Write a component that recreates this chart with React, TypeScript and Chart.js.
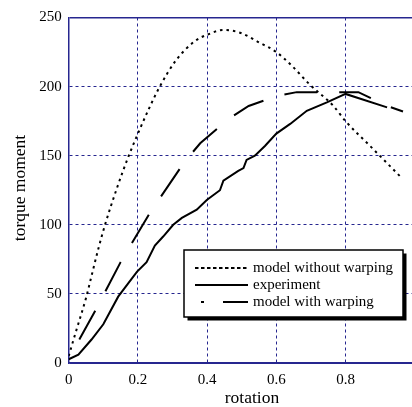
import React, { useEffect, useRef } from 'react';
import { Chart, registerables } from 'chart.js';

Chart.register(...registerables);

// tick values
const xTickValues = [0, 0.2, 0.4, 0.6, 0.8];
const yTickValues = [0, 50, 100, 150, 200, 250];

// model without warping (dotted)
const noWarpX = [0, 0.02, 0.05, 0.065, 0.085, 0.105, 0.14, 0.172, 0.2, 0.23, 0.261, 0.31, 0.365, 0.4, 0.447, 0.495, 0.55, 0.6, 0.645, 0.697, 0.765, 0.8, 0.871, 0.958];
const noWarpY = [5, 22, 47, 62, 82, 100, 127, 149, 166, 183, 199, 219, 233, 237.5, 241, 239, 232, 225, 215, 201.4, 186, 175, 157, 135];

// experiment (solid)
const expX = [0, 0.028, 0.066, 0.1, 0.143, 0.197, 0.225, 0.249, 0.273, 0.302, 0.327, 0.37, 0.399, 0.437, 0.447, 0.49, 0.505, 0.514, 0.538, 0.567, 0.6, 0.64, 0.688, 0.746, 0.8, 0.92];
const expY = [2.7, 6, 17, 28, 48, 66, 73, 85, 91.5, 100, 105, 111, 118, 125, 132, 139, 141, 147, 150, 157, 166, 173, 182.5, 188.6, 194.7, 185];

// model with warping (long dash)
const warpX = [0, 0.077, 0.15, 0.233, 0.333, 0.38, 0.464, 0.52, 0.606, 0.659, 0.837, 0.92, 0.966];
const warpY = [3, 38, 73, 108, 145, 159, 177, 186, 193.5, 196, 196, 186, 182];

const seriesLabels = ['model without warping', 'experiment', 'model with warping'];
const xTitle = 'rotation';
const yTitle = 'torque moment';

const SERIF = "'Liberation Serif', 'DejaVu Serif', serif";
const GRID = '#26268f';

const toPts = (xs: number[], ys: number[]) => xs.map((x, i) => ({ x, y: ys[i] }));

const overlayPlugin = {
  id: 'overlay',
  afterDraw(chart: any) {
    const ctx = chart.ctx as CanvasRenderingContext2D;
    ctx.save();
    // axis titles
    ctx.fillStyle = '#000';
    ctx.font = `17.5px ${SERIF}`;
    ctx.textAlign = 'center';
    ctx.textBaseline = 'middle';
    ctx.fillText(xTitle, 252, 398);
    ctx.save();
    ctx.translate(20, 188);
    ctx.rotate(-Math.PI / 2);
    ctx.fillText(yTitle, 0, 0);
    ctx.restore();

    // legend box with shadow
    const bx = 184, by = 250, bw = 219, bh = 67;
    ctx.fillStyle = '#000';
    ctx.fillRect(bx + 3.5, by + 3.5, bw, bh);
    ctx.fillStyle = '#fff';
    ctx.fillRect(bx, by, bw, bh);
    ctx.strokeStyle = '#000';
    ctx.lineWidth = 1.5;
    ctx.strokeRect(bx, by, bw, bh);

    const rows = [268, 285, 302];
    const sx0 = 195, sx1 = 248;
    ctx.lineWidth = 2;
    // row 1 dotted
    ctx.setLineDash([3.5, 2.5]);
    ctx.beginPath(); ctx.moveTo(sx0, rows[0]); ctx.lineTo(sx1, rows[0]); ctx.stroke();
    // row 2 solid
    ctx.setLineDash([]);
    ctx.beginPath(); ctx.moveTo(sx0, rows[1]); ctx.lineTo(sx1, rows[1]); ctx.stroke();
    // row 3 dot + dash
    ctx.beginPath(); ctx.moveTo(201, rows[2]); ctx.lineTo(204, rows[2]); ctx.stroke();
    ctx.beginPath(); ctx.moveTo(223, rows[2]); ctx.lineTo(sx1, rows[2]); ctx.stroke();

    ctx.fillStyle = '#000';
    ctx.font = `15px ${SERIF}`;
    ctx.textAlign = 'left';
    ctx.textBaseline = 'middle';
    seriesLabels.forEach((t, i) => ctx.fillText(t, 253, rows[i]));
    ctx.restore();
  },
};

export default function App() {
  const ref = useRef<HTMLCanvasElement | null>(null);
  useEffect(() => {
    if (!ref.current) return;
    const dashFor = (v: number, max: number) => (v === 0 || v === max ? [] : [3, 3]);
    const chart = new Chart(ref.current, {
      type: 'line',
      data: {
        datasets: [
          {
            label: seriesLabels[0],
            data: toPts(noWarpX, noWarpY),
            borderColor: '#000',
            borderWidth: 2,
            borderDash: [2.5, 4],
            pointRadius: 0,
            cubicInterpolationMode: 'monotone',
            fill: false,
          },
          {
            label: seriesLabels[1],
            data: toPts(expX, expY),
            borderColor: '#000',
            borderWidth: 2,
            pointRadius: 0,
            tension: 0,
            fill: false,
          },
          {
            label: seriesLabels[2],
            data: toPts(warpX, warpY),
            borderColor: '#000',
            borderWidth: 2,
            borderDash: [33, 22],
            borderDashOffset: 33,
            pointRadius: 0,
            tension: 0,
            fill: false,
          },
        ],
      },
      options: {
        animation: false,
        responsive: true,
        maintainAspectRatio: false,
        layout: { padding: { top: 17.5, left: 0, right: 0, bottom: 0 } },
        plugins: { legend: { display: false }, tooltip: { enabled: false } },
        scales: {
          x: {
            type: 'linear',
            min: 0,
            max: 0.992,
            afterBuildTicks: (s: any) => { s.ticks = xTickValues.map((v) => ({ value: v })); },
            afterFit: (s: any) => { s.height = 44; },
            grid: { color: GRID, lineWidth: 1, drawTicks: false },
            border: {
              display: true,
              color: GRID,
              width: 1.5,
              dash: (c: any) => (c.tick ? dashFor(c.tick.value, -1) : []),
            },
            ticks: {
              color: '#000',
              font: { family: SERIF, size: 15 },
              padding: 8,
              maxRotation: 0,
              callback: (v: any) => String(v),
            },
          },
          y: {
            type: 'linear',
            min: 0,
            max: 250,
            afterBuildTicks: (s: any) => { s.ticks = yTickValues.map((v) => ({ value: v })); },
            afterFit: (s: any) => { s.width = 68.7; },
            grid: {
              color: GRID,
              lineWidth: (c: any) => (c.tick && c.tick.value === 250 ? 1.5 : 1),
              drawTicks: false,
            },
            border: {
              display: true,
              color: GRID,
              width: 1.5,
              dash: (c: any) => (c.tick ? dashFor(c.tick.value, 250) : []),
            },
            ticks: {
              color: '#000',
              font: { family: SERIF, size: 15 },
              padding: 7,
              callback: (v: any) => String(v),
            },
          },
        },
      },
      plugins: [overlayPlugin],
    });
    return () => chart.destroy();
  }, []);

  return (
    <div style={{ position: 'absolute', left: 0, top: 0, width: 412, height: 407, background: '#fff' }}>
      <canvas ref={ref} />
    </div>
  );
}
